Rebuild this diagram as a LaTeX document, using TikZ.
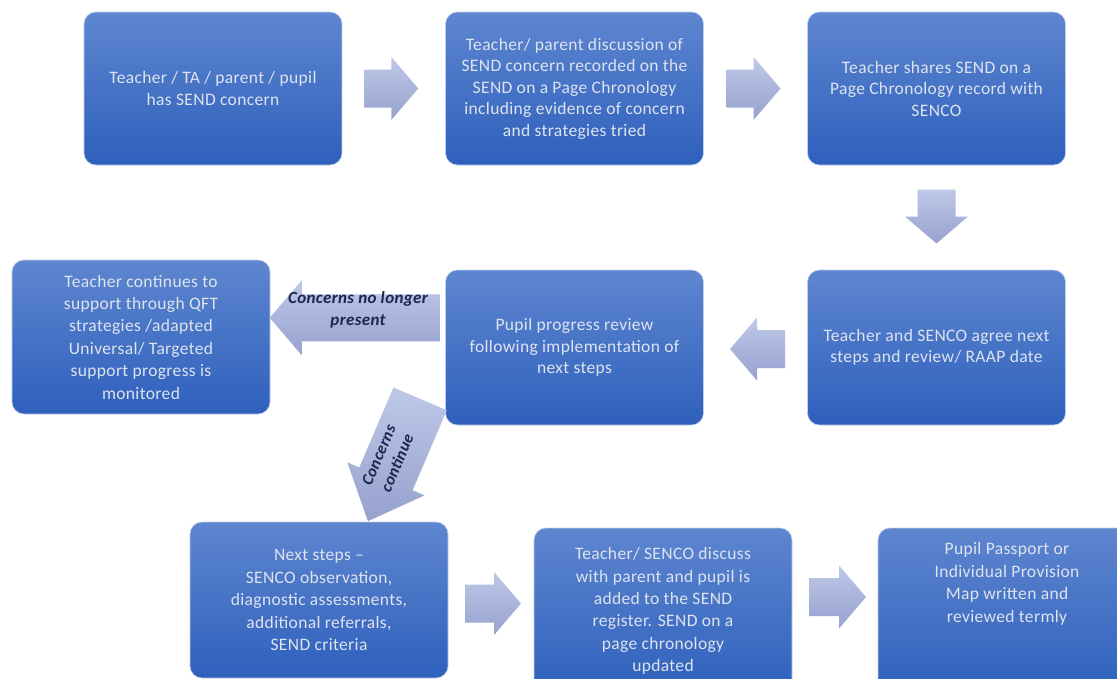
\documentclass[tikz,border=0pt]{standalone}
\usepackage{fontspec}
\setmainfont{Carlito}[LetterSpace=2]
\usetikzlibrary{calc}
\definecolor{boxtop}{RGB}{94,134,208}
\definecolor{boxbot}{RGB}{46,96,188}
\definecolor{boxedge}{RGB}{190,205,235}
\definecolor{boxtext}{RGB}{222,227,238}
\definecolor{arrtop}{RGB}{190,200,232}
\definecolor{arrbot}{RGB}{150,162,206}
\definecolor{labtext}{RGB}{28,38,78}
\tikzset{
 box/.style={rounded corners=12pt, top color=boxtop, bottom color=boxbot, draw=boxedge, line width=0.6pt,
   minimum width=258pt, inner sep=0pt, align=center, text=boxtext, font=\fontsize{17.5}{21.5}\selectfont},
 boxtxt/.style={inner sep=0pt, align=center, text=boxtext, font=\fontsize{17.5}{22.5}\selectfont},
 arrowfill/.style={top color=arrtop, bottom color=arrbot},
 lab/.style={text=labtext, font=\fontsize{17}{22}\selectfont\bfseries\itshape, align=center, inner sep=0pt},
 pics/barrow/.style args={#1/#2/#3/#4}{code={
   \path[arrowfill] (-#1/2,-#2/2) -- ({#1/2-#4},-#2/2) -- ({#1/2-#4},-#3/2) -- (#1/2,0)
     -- ({#1/2-#4},#3/2) -- ({#1/2-#4},#2/2) -- (-#1/2,#2/2) -- cycle;}}
}
\begin{document}
\begin{tikzpicture}[x=1pt,y=-1pt]
\useasboundingbox (0,0) rectangle (1117,678);
\fill[white] (0,0) rectangle (1117,678);
\clip (0,0) rectangle (1117,678);
% boxes
\node[box, minimum height=153pt] (A) at (213,88.5) {Teacher / TA / parent / pupil\\has SEND concern};
\node[box, minimum height=153pt] (B) at (574.5,88.5) {Teacher/ parent discussion of\\SEND concern recorded on the\\SEND on a Page Chronology\\including evidence of concern\\and strategies tried};
\node[box, minimum height=153pt] (C) at (936.5,88.5) {Teacher shares SEND on a\\Page Chronology record with\\SENCO};
\node[box, minimum height=155pt] (D) at (936.5,347.5) {Teacher and SENCO agree next\\steps and review/ RAAP date};
\node[box, minimum height=155pt] (E) at (574.5,347.5) {Pupil progress review\\following implementation of\\next steps};
\node[box, minimum height=154pt, font=\fontsize{17.5}{22.4}\selectfont] (F) at (141,337) {Teacher continues to\\support through QFT\\strategies /adapted\\Universal/ Targeted\\support progress is\\monitored};
\node[box, minimum height=156pt, font=\fontsize{17.5}{22.5}\selectfont] (G) at (319,600) {Next steps --\\SENCO observation,\\diagnostic assessments,\\additional referrals,\\SEND criteria};
\node[box, minimum height=166pt, font=\fontsize{17.5}{22.4}\selectfont] (H) at (663,611) {Teacher/ SENCO discuss\\with parent and pupil is\\added to the SEND\\register. SEND on a\\page chronology\\updated};
\node[box, minimum height=166pt] (I) at (1007,611) {};
\node[boxtxt] (Itxt) at (1007,584) {Pupil Passport or\\Individual Provision\\Map written and\\reviewed termly};
% block arrows
\coordinate (ab) at ($(A.east)!0.5!(B.west)+(-2.5,0)$);
\coordinate (bc) at ($(B.east)!0.5!(C.west)+(-2,0)$);
\coordinate (cd) at ($(C.south)!0.5!(D.north)+(0,-1)$);
\coordinate (de) at ($(E.east)!0.5!(D.west)+(2,1.5)$);
\coordinate (ef) at ($(F.east)!0.5!(E.west)+(-3,-24.5)$);
\coordinate (eg) at (394,460);
\coordinate (gh) at ($(G.east)!0.5!(H.west)+(2,-2)$);
\coordinate (hi) at ($(H.east)!0.5!(I.west)+(2.5,-14)$);
\pic at (ab) {barrow=54/38/63/27};
\pic at (bc) {barrow=54/38/63/27};
\pic[rotate=-90] at (cd) {barrow=54/38/63/27};
\pic[rotate=180] at (de) {barrow=55/38/63/27};
\pic[rotate=180] at (ef) {barrow=170/47/75/32};
\pic[rotate=-113.1] at (eg) {barrow=133/58/84/46};
\pic at (gh) {barrow=56/38/63/27};
\pic at (hi) {barrow=57/38/63/27};
% labels
\node[lab] (l1) at (358,310) {Concerns no longer\\present};
\node[lab, rotate=67, font=\fontsize{16.5}{20}\selectfont\bfseries\itshape] (l2) at (388,459) {Concerns\\continue};
\end{tikzpicture}
\end{document}
